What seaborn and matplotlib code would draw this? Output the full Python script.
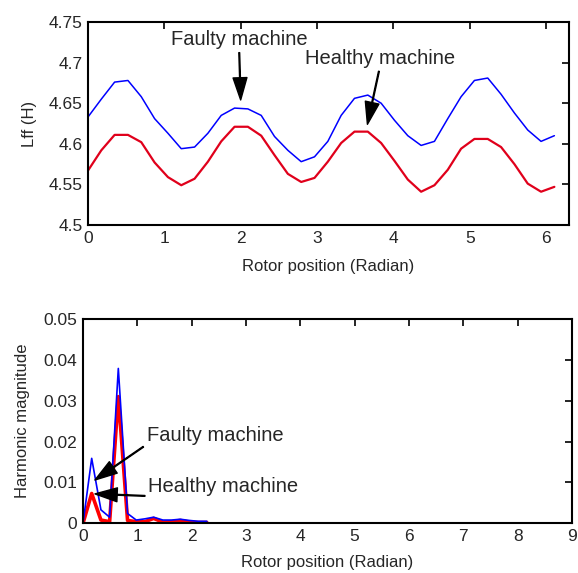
# IMPORTING LIBRARIES

import numpy as np
import pandas as pd
import matplotlib
matplotlib.use('Agg')
import matplotlib.pyplot as plt
import seaborn as sns


# DATA

# top panel: inductance Lff vs rotor position, one point every 10 degrees
rotor_deg = [0, 10, 20, 30, 40, 50, 60, 70, 80, 90, 100, 110, 120, 130, 140, 150, 160, 170,
             180, 190, 200, 210, 220, 230, 240, 250, 260, 270, 280, 290, 300, 310, 320, 330, 340, 350]
lff_faulty = [4.633, 4.655, 4.676, 4.678, 4.658, 4.631, 4.613, 4.594, 4.596, 4.613, 4.635, 4.644,
              4.643, 4.635, 4.609, 4.592, 4.578, 4.584, 4.603, 4.635, 4.656, 4.660, 4.650, 4.629,
              4.610, 4.598, 4.603, 4.631, 4.658, 4.678, 4.681, 4.661, 4.638, 4.617, 4.603, 4.610]
lff_healthy = [4.567, 4.592, 4.611, 4.611, 4.602, 4.577, 4.559, 4.549, 4.557, 4.578, 4.603, 4.621,
               4.621, 4.610, 4.586, 4.563, 4.553, 4.558, 4.578, 4.601, 4.615, 4.615, 4.601, 4.579,
               4.556, 4.541, 4.549, 4.568, 4.594, 4.606, 4.606, 4.596, 4.575, 4.551, 4.541, 4.547]

# bottom panel: harmonic magnitudes
harm_x = [0.0, 0.16, 0.33, 0.49, 0.65, 0.82, 0.98, 1.14, 1.30, 1.47, 1.63, 1.79, 1.96, 2.12, 2.28]
harm_faulty = [0.0, 0.0159, 0.0033, 0.0015, 0.0379, 0.0024, 0.0008, 0.0011, 0.0015, 0.0008,
               0.0008, 0.0010, 0.0007, 0.0005, 0.0005]
harm_healthy = [0.0, 0.0073, 0.0008, 0.0004, 0.0310, 0.0007, 0.0004, 0.0004, 0.0012, 0.0003,
                0.0004, 0.0007, 0.0003, 0.0002, 0.0002]

top_yticks = [4.5, 4.55, 4.6, 4.65, 4.7, 4.75]
top_yticklabels = ['4.5', '4.55', '4.6', '4.65', '4.7', '4.75']
bot_yticks = [0, 0.01, 0.02, 0.03, 0.04, 0.05]
bot_yticklabels = ['0', '0.01', '0.02', '0.03', '0.04', '0.05']


# BUILDING DATAFRAMES

df_top = pd.DataFrame({
    'rotor': np.deg2rad(rotor_deg),
    'faulty': lff_faulty,
    'healthy': lff_healthy,
})
df_bot = pd.DataFrame({
    'rotor': harm_x,
    'faulty': harm_faulty,
    'healthy': harm_healthy,
})


# STYLE

sns.set_style('white')
plt.rcParams['font.family'] = ['Liberation Sans', 'DejaVu Sans']
plt.rcParams['xtick.direction'] = 'in'
plt.rcParams['ytick.direction'] = 'in'
plt.rcParams['xtick.top'] = True
plt.rcParams['ytick.right'] = True
plt.rcParams['axes.linewidth'] = 1.5
plt.rcParams['axes.edgecolor'] = 'black'

fig = plt.figure(figsize=(5.78, 5.73), dpi=100)
ax1 = fig.add_axes([0.1522, 0.6073, 0.8322, 0.3543])
ax2 = fig.add_axes([0.1436, 0.0867, 0.8460, 0.3566])

tick_fs = 12.5
label_fs = 12
ann_fs = 14.5
arrow = dict(facecolor='black', edgecolor='black', width=0.6, headwidth=10, headlength=16, shrink=0)


# TOP PANEL

sns.lineplot(data=df_top, x='rotor', y='faulty', ax=ax1, color='blue', linewidth=1.1, estimator=None)
sns.lineplot(data=df_top, x='rotor', y='healthy', ax=ax1, color='#e0001b', linewidth=1.6, estimator=None)
ax1.set_xlim(0, 6.3)
ax1.set_ylim(4.5, 4.75)
ax1.set_xticks([0, 1, 2, 3, 4, 5, 6])
ax1.set_yticks(top_yticks)
ax1.set_yticklabels(top_yticklabels)
ax1.set_xlabel('Rotor position (Radian)', fontsize=label_fs, labelpad=10)
ax1.set_ylabel('Lff (H)', fontsize=label_fs, labelpad=8)
ax1.tick_params(labelsize=tick_fs, length=5, width=1.2, color='black', pad=4)

ax1.annotate('Faulty machine', xy=(2.0, 4.654), xytext=(1.98, 4.728),
             ha='center', va='center', fontsize=ann_fs, arrowprops=arrow)
ax1.annotate('Healthy machine', xy=(3.66, 4.624), xytext=(3.82, 4.705),
             ha='center', va='center', fontsize=ann_fs, arrowprops=arrow)


# BOTTOM PANEL

sns.lineplot(data=df_bot, x='rotor', y='healthy', ax=ax2, color='red', linewidth=2.6, estimator=None)
sns.lineplot(data=df_bot, x='rotor', y='faulty', ax=ax2, color='blue', linewidth=1.2, estimator=None)
ax2.set_xlim(0, 9)
ax2.set_ylim(0, 0.05)
ax2.set_xticks(range(10))
ax2.set_yticks(bot_yticks)
ax2.set_yticklabels(bot_yticklabels)
ax2.set_xlabel('Rotor position (Radian)', fontsize=label_fs, labelpad=8)
ax2.set_ylabel('Harmonic magnitude', fontsize=label_fs, labelpad=10)
ax2.tick_params(labelsize=tick_fs, length=5, width=1.2, color='black', pad=4)

ax2.annotate('Faulty machine', xy=(0.22, 0.0106), xytext=(1.17, 0.0216),
             ha='left', va='center', fontsize=ann_fs, arrowprops=arrow)
ax2.annotate('Healthy machine', xy=(0.22, 0.0072), xytext=(1.2, 0.0090),
             ha='left', va='center', fontsize=ann_fs, arrowprops=arrow)


# SAVING THE FIGURE

fig.savefig('out.png', dpi=100)
